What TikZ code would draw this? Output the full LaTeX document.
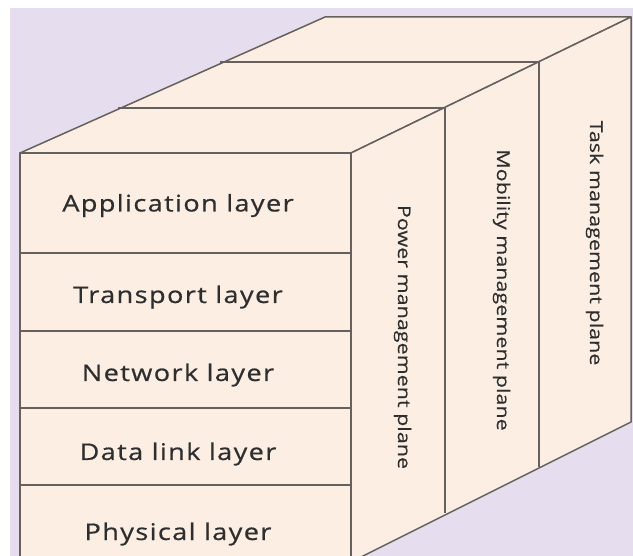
\documentclass[tikz,border=0pt]{standalone}
\usepackage{fontspec}
\newfontfamily\layerfont[LetterSpace=6, FakeStretch=1.18, FakeBold=0.6]{Open Sans}
\newfontfamily\planefont[FakeStretch=1.23, FakeBold=0.2]{Open Sans}
\definecolor{bgpaper}{HTML}{FFFFFF}
\definecolor{bglav}{HTML}{E6DEEE}
\definecolor{facefill}{HTML}{FCEEE3}
\definecolor{edge}{HTML}{66605E}
\definecolor{ink}{HTML}{2E2E2E}
\tikzset{
  face/.style={fill=facefill, draw=edge, line width=1.5pt, line join=round},
  divider/.style={draw=edge, line width=1.4pt},
  layertext/.style={anchor=base, inner sep=0pt, text=ink,
    font=\layerfont\fontsize{23}{26}\selectfont},
  planetext/.style={anchor=base, rotate=-90, inner sep=0pt, text=ink,
    font=\planefont\fontsize{17.5}{20}\selectfont},
}
\begin{document}
\begin{tikzpicture}[x=1pt, y=-1pt]
  % canvas and backdrop
  \useasboundingbox (0,0) rectangle (633,556);
  \fill[bgpaper] (0,0) rectangle (633,556);
  \fill[bglav] (10,8) rectangle (633,556);

  % corner points of the block
  \coordinate (ftl) at (20,153);
  \coordinate (ftr) at (351,153);
  \coordinate (fbl) at (20,562);
  \coordinate (fbr) at (351,562);
  \coordinate (btl) at (325,17);
  \coordinate (btr) at (631,17);
  \coordinate (bbr) at (631,422);
  % plane boundaries on the top and right faces
  \coordinate (t1l) at (118,108);
  \coordinate (t1r) at (445,108);
  \coordinate (b1r) at (445,513);
  \coordinate (t2l) at (220,62);
  \coordinate (t2r) at (539,62);
  \coordinate (b2r) at (539,467);

  \begin{scope}
    \clip (0,0) rectangle (633,556);
    % top, right and front faces
    \path[face] (ftl) -- (ftr) -- (btr) -- (btl) -- cycle;
    \path[face] (ftr) -- (btr) -- (bbr) -- (fbr) -- cycle;
    \path[face] (ftl) -- (ftr) -- (fbr) -- (fbl) -- cycle;
    % plane separators
    \draw[divider] (t1l) -- (t1r) -- (b1r);
    \draw[divider] (t2l) -- (t2r) -- (b2r);
    % layer separators on the front face
    \coordinate (d1l) at (20,253);  \coordinate (d1r) at (351,253);
    \coordinate (d2l) at (20,331);  \coordinate (d2r) at (351,331);
    \coordinate (d3l) at (20,408);  \coordinate (d3r) at (351,408);
    \coordinate (d4l) at (20,485);  \coordinate (d4r) at (351,485);
    \draw[divider] (d1l) -- (d1r);
    \draw[divider] (d2l) -- (d2r);
    \draw[divider] (d3l) -- (d3r);
    \draw[divider] (d4l) -- (d4r);
  \end{scope}

  % protocol layers
  \node[layertext] (app)  at (178,211.5) {Application layer};
  \node[layertext] (trans) at (178,303) {Transport layer};
  \node[layertext] (net)  at (178,381) {Network layer};
  \node[layertext] (dll)  at (178,460) {Data link layer};
  \node[layertext] (phy)  at (178,540) {Physical layer};

  % management planes
  \node[planetext] (power) at (398,337) {Power management plane};
  \node[planetext] (mobil) at (497,290) {Mobility management plane};
  \node[planetext] (task)  at (590,243) {Task management plane};
\end{tikzpicture}
\end{document}
